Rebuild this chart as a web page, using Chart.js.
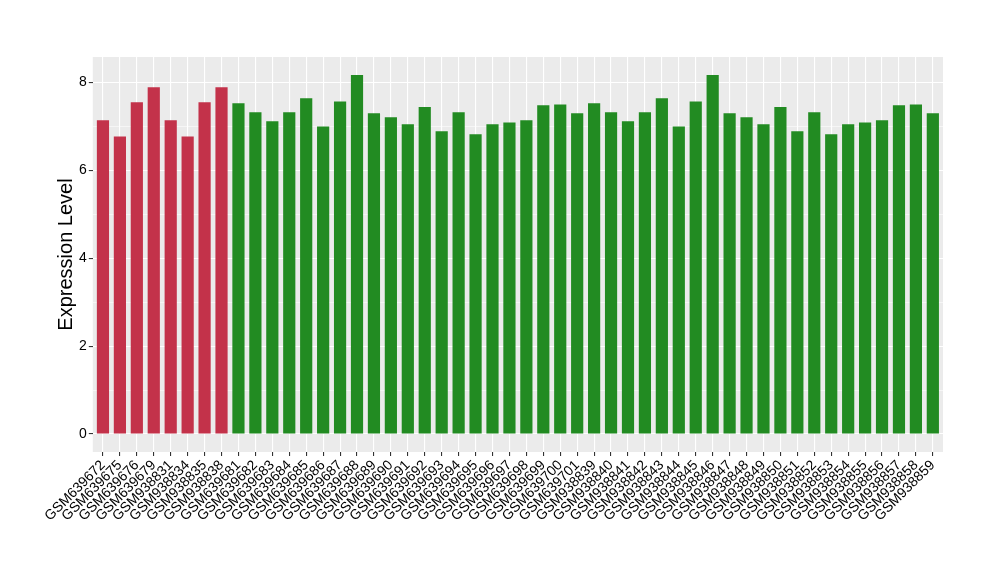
<!DOCTYPE html>
<html>
<head>
<meta charset="utf-8">
<script src="https://cdn.jsdelivr.net/npm/chart.js@4/dist/chart.umd.min.js"></script>
<style>
  html, body { margin: 0; padding: 0; background: #fff; }
  #wrap { width: 1000px; height: 580px; }
</style>
</head>
<body>
<div id="wrap"><canvas id="myChart" width="1000" height="580"></canvas></div>
<script>
// sample names along the x axis
var samples = [
    "GSM639672", "GSM639675", "GSM639676", "GSM639679",
    "GSM938831", "GSM938834", "GSM938835", "GSM938838",
    "GSM639681", "GSM639682", "GSM639683", "GSM639684", "GSM639685", "GSM639686", "GSM639687",
    "GSM639688", "GSM639689", "GSM639690", "GSM639691", "GSM639692", "GSM639693", "GSM639694",
    "GSM639695", "GSM639696", "GSM639697", "GSM639698", "GSM639699", "GSM639700", "GSM639701",
    "GSM938839", "GSM938840", "GSM938841", "GSM938842", "GSM938843", "GSM938844", "GSM938845",
    "GSM938846", "GSM938847", "GSM938848", "GSM938849", "GSM938850", "GSM938851", "GSM938852",
    "GSM938853", "GSM938854", "GSM938855", "GSM938856", "GSM938857", "GSM938858", "GSM938859"
];

// expression values
var expression = [
    7.14, 6.77, 7.55, 7.89,
    7.14, 6.77, 7.55, 7.89,
    7.53, 7.32, 7.12, 7.32, 7.64, 7.00, 7.57,
    8.17, 7.30, 7.21, 7.05, 7.44, 6.89, 7.32,
    6.82, 7.05, 7.09, 7.14, 7.48, 7.50, 7.30,
    7.53, 7.32, 7.12, 7.32, 7.64, 7.00, 7.57,
    8.17, 7.30, 7.21, 7.05, 7.44, 6.89, 7.32,
    6.82, 7.05, 7.09, 7.14, 7.48, 7.50, 7.30
];

// group of each sample: first 8 red, rest green
var groups = [
    "a", "a", "a", "a", "a", "a", "a", "a",
    "b", "b", "b", "b", "b", "b", "b", "b", "b", "b", "b", "b", "b",
    "b", "b", "b", "b", "b", "b", "b", "b", "b", "b", "b", "b", "b",
    "b", "b", "b", "b", "b", "b", "b", "b", "b", "b", "b", "b", "b",
    "b", "b", "b"
];

var yTicks = [0, 1, 2, 3, 4, 5, 6, 7, 8];
var groupColors = { a: "#C3324A", b: "#228B22" };

var points = [];
for (var i = 0; i < expression.length; i++) {
    points.push({ x: i + 1, y: expression[i] });
}

// gray ggplot-style panel
var panelBg = {
    id: "panelBg",
    beforeDraw: function (chart) {
        var a = chart.chartArea;
        var ctx = chart.ctx;
        ctx.save();
        ctx.fillStyle = "#EBEBEB";
        ctx.fillRect(a.left, a.top, a.right - a.left, a.bottom - a.top);
        ctx.restore();
    }
};

var ctx = document.getElementById("myChart").getContext("2d");
var chart = new Chart(ctx, {
    type: "bar",
    data: {
        datasets: [{
            data: points,
            backgroundColor: groups.map(function (g) { return groupColors[g]; }),
            borderWidth: 0,
            barPercentage: 0.72,
            categoryPercentage: 1.0
        }]
    },
    options: {
        responsive: false,
        animation: false,
        layout: { padding: { left: 54, right: 57, top: 57, bottom: 0 } },
        plugins: {
            legend: { display: false },
            tooltip: { enabled: false }
        },
        scales: {
            x: {
                type: "linear",
                min: 0.4,
                max: 50.6,
                offset: false,
                afterBuildTicks: function (scale) {
                    scale.ticks = samples.map(function (s, i) { return { value: i + 1 }; });
                },
                afterFit: function (scale) { scale.height = 128; },
                border: { display: false },
                grid: {
                    offset: false,
                    color: "#FFFFFF",
                    lineWidth: 1.1,
                    drawTicks: true,
                    tickLength: 4,
                    tickColor: "#333333",
                    tickWidth: 1.1
                },
                ticks: {
                    autoSkip: false,
                    minRotation: 45,
                    maxRotation: 45,
                    padding: 1,
                    color: "#000000",
                    font: { family: "'Liberation Sans', Arial, sans-serif", size: 14 },
                    callback: function (v) { return samples[v - 1]; }
                }
            },
            y: {
                min: -0.41,
                max: 8.58,
                afterBuildTicks: function (scale) {
                    scale.ticks = yTicks.map(function (v) { return { value: v }; });
                },
                afterFit: function (scale) { scale.width = 38.8; },
                border: { display: false },
                grid: {
                    color: "#FFFFFF",
                    lineWidth: function (c) { return c.tick && c.tick.value % 2 ? 0.55 : 1.1; },
                    drawTicks: true,
                    tickLength: 4,
                    tickColor: function (c) { return c.tick && c.tick.value % 2 ? "rgba(0,0,0,0)" : "#333333"; },
                    tickWidth: 1.1
                },
                ticks: {
                    padding: 2,
                    color: "#000000",
                    font: { family: "'Liberation Sans', Arial, sans-serif", size: 14 },
                    callback: function (v) { return v % 2 ? "" : v; }
                },
                title: {
                    display: true,
                    text: "Expression Level",
                    color: "#000000",
                    padding: 0,
                    font: { family: "'Liberation Sans', Arial, sans-serif", size: 20 }
                }
            }
        }
    },
    plugins: [panelBg]
});
</script>
</body>
</html>
